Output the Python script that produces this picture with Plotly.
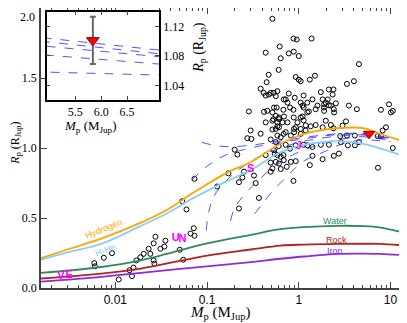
import math
import plotly.graph_objects as go

# pure-composition mass-radius curves (M_Jup -> R_Jup)
gas_mass = [0.00155, 0.003, 0.007, 0.019, 0.036, 0.07, 0.16, 0.3, 0.63, 1.14, 2.6, 5.1, 7.8, 15]
hydrogen_r = [0.213, 0.275, 0.352, 0.467, 0.556, 0.678, 0.819, 0.90, 1.03, 1.10, 1.141, 1.141, 1.10, 1.04]
hhe_r = [0.202, 0.255, 0.315, 0.444, 0.53, 0.64, 0.76, 0.843, 0.97, 1.023, 1.047, 1.03, 0.995, 0.937]

solid_mass = [0.00155, 0.007, 0.019, 0.1, 0.3, 0.63, 1.14, 2.6, 5.1, 7.8, 15]
water_r = [0.108, 0.15, 0.197, 0.319, 0.38, 0.42, 0.435, 0.444, 0.442, 0.432, 0.39]
rock_r = [0.068, 0.103, 0.139, 0.232, 0.275, 0.303, 0.31, 0.315, 0.316, 0.315, 0.303]
iron_r = [0.045, 0.08, 0.108, 0.155, 0.185, 0.209, 0.225, 0.244, 0.246, 0.244, 0.232]

# giant planet models with different core masses (dashed)
core_mass = [
    [0.088, 0.13, 0.2, 0.3, 0.5, 1, 2, 3, 4.95, 7.1, 10],
    [0.068, 0.1, 0.16, 0.3, 0.5, 1, 2, 3, 4.95, 7.1, 10],
    [0.098, 0.105, 0.12, 0.17, 0.25, 0.4, 0.7, 1, 2, 3, 4.95, 7.1, 10],
    [0.18, 0.2, 0.25, 0.35, 0.5, 0.8, 1, 2, 3, 4.95, 7.1, 10],
    [0.33, 0.4, 0.5, 0.7, 1.1, 2, 3, 4.95, 7.1, 10],
]
core_r = [
    [1.04, 1.015, 1.01, 1.02, 1.04, 1.07, 1.095, 1.103, 1.104, 1.088, 1.07],
    [0.77, 0.87, 0.95, 1.0, 1.03, 1.06, 1.088, 1.097, 1.099, 1.083, 1.066],
    [0.41, 0.55, 0.66, 0.78, 0.87, 0.95, 1.01, 1.04, 1.075, 1.087, 1.093, 1.079, 1.062],
    [0.48, 0.57, 0.66, 0.76, 0.85, 0.94, 0.97, 1.04, 1.065, 1.081, 1.069, 1.055],
    [0.53, 0.6, 0.68, 0.78, 0.90, 0.98, 1.03, 1.058, 1.054, 1.046],
]

# known transiting planets
obs_mass = [
    0.0059, 0.0060, 0.0075, 0.0092, 0.0109, 0.0143, 0.0152, 0.0158, 0.0170, 0.0188,
    0.0204, 0.0231, 0.0241, 0.0262, 0.0267, 0.0262, 0.0274, 0.0310, 0.0343, 0.0352,
    0.0504, 0.0550, 0.0661, 0.0730, 0.0717, 0.0536, 0.0597, 0.0730, 0.129, 0.171,
    0.200, 0.214, 0.223, 0.223, 0.243, 0.253, 0.275, 0.286, 0.299, 0.304,
    0.325, 0.339, 0.368, 0.384, 0.418, 0.436, 0.436, 0.436, 0.455, 0.473,
    0.470, 0.447, 0.436, 0.516, 0.620, 0.604, 0.384, 0.414, 0.533, 0.585,
    0.561, 0.494, 0.516, 0.561, 0.529, 0.609, 0.516, 0.585, 0.516, 0.561,
    0.585, 0.537, 0.585, 0.561, 0.609, 0.494, 0.516, 0.494, 0.636, 0.681,
    0.804, 0.818, 0.740, 0.721, 0.753, 0.804, 0.609, 0.691, 0.585, 0.609,
    0.753, 0.968, 0.889, 1.05, 0.721, 0.636, 0.818,
    0.875, 0.951, 1.38, 0.778, 0.882, 1.0, 0.636, 4.53, 0.927, 1.0,
    1.05, 1.32, 1.50, 3.35, 3.99, 0.494, 0.686, 0.778, 0.904, 1.13,
    1.05, 1.10, 1.24, 1.41, 1.74, 1.82, 1.97, 2.13, 2.39, 2.34,
    2.07, 2.24, 2.54, 1.53, 0.575, 0.681, 0.875, 3.52, 4.30, 7.87,
    9.63, 10.6, 0.537, 1.13, 1.29, 1.60, 1.88, 2.13, 2.41, 13.6,
    0.664, 0.882, 1.10, 1.13, 1.19, 0.927, 1.35, 1.53, 1.82, 2.24,
    3.00, 3.27, 8.93, 8.22, 7.87, 0.561, 0.686, 0.604, 0.721, 0.927,
    1.13, 1.41, 1.74, 2.13, 2.88, 3.43, 4.53, 0.547, 0.636, 0.927,
    1.41, 2.41, 2.74, 10.6, 0.686, 1.32, 1.82, 7.30, 0.875, 4.09,
    3.35, 2.83, 7.25, 1.97, 2.39, 4.09, 1.24, 1.89, 10.1, 1.24,
    1.05, 1.89, 2.43, 1.19, 1.05, 0.889,
]
obs_radius = [
    0.178, 0.155, 0.216, 0.249, 0.061, 0.127, 0.085, 0.146, 0.197, 0.220,
    0.244, 0.280, 0.244, 0.197, 0.174, 0.319, 0.366, 0.280, 0.296, 0.338,
    0.273, 0.202, 0.389, 0.373, 0.427, 0.620, 0.561, 0.780, 0.725, 0.819,
    0.988, 0.953, 0.756, 0.568, 0.789, 0.831, 1.070, 1.261, 1.125, 1.065,
    0.803, 0.749, 0.643, 1.102, 1.258, 1.183, 0.949, 1.375, 1.266, 1.382,
    1.523, 1.470, 1.681, 1.923, 1.725, 1.558, 1.423, 1.394, 1.394, 1.406,
    1.371, 1.061, 1.254, 1.230, 1.206, 1.206, 1.195, 1.155, 1.132, 1.042,
    1.089, 0.984, 0.949, 0.901, 0.889, 0.831, 0.854, 0.896, 0.850, 0.949,
    0.995, 0.901, 0.866, 1.347, 1.324, 1.289, 1.218, 1.225, 1.183, 1.148,
    1.183, 1.183, 1.136, 1.136, 1.113, 1.077, 1.089,
    1.782, 1.775, 1.782, 1.676, 1.688, 1.657, 1.641, 1.599, 1.507, 1.488,
    1.477, 1.488, 1.516, 1.458, 1.477, 1.394, 1.347, 1.389, 1.359, 1.375,
    1.324, 1.303, 1.324, 1.347, 1.399, 1.347, 1.324, 1.418, 1.418, 1.382,
    1.347, 1.303, 1.319, 1.277, 1.289, 1.273, 1.273, 1.303, 1.277, 1.273,
    1.312, 1.265, 1.289, 1.289, 1.261, 1.303, 1.289, 1.305, 1.277, 1.206,
    1.183, 1.218, 1.225, 1.197, 1.162, 1.148, 1.155, 1.164, 1.148, 1.164,
    1.160, 1.190, 1.148, 1.125, 1.085, 1.136, 1.101, 1.014, 1.023, 1.019,
    1.023, 1.007, 1.023, 1.023, 1.042, 1.019, 1.042, 0.960, 0.937, 0.906,
    0.944, 0.944, 0.960, 1.0, 0.913, 0.878, 0.920, 0.859, 0.765, 1.089,
    1.089, 1.085, 1.085, 1.195, 1.141, 1.019, 1.019, 1.312, 1.254, 1.254,
    1.218, 1.265, 1.254, 1.125, 1.101, 1.113,
]

# solar system planets
ss_letters = ["V", "E", "U", "N", "S", "J"]
ss_mass = [0.00256, 0.00315, 0.0457, 0.054, 0.299, 1.0]
ss_radius = [0.085, 0.089, 0.357, 0.346, 0.85, 1.01]

# the planet of this study
target_mass = [5.84]
target_radius = [1.101]
target_err = [0.032]

fig = go.Figure()

fig.add_trace(go.Scatter(
    x=obs_mass, y=obs_radius, mode="markers",
    marker=dict(symbol="circle-open", size=5, color="black", line=dict(width=1)),
))

for m, r in zip(core_mass, core_r):
    fig.add_trace(go.Scatter(x=m, y=r, mode="lines",
                             line=dict(color="rgba(40,40,255,0.8)", width=1, dash="dash", shape="spline")))

curves = [
    (gas_mass, hydrogen_r, "#ffa500"),
    (gas_mass, hhe_r, "#87cefa"),
    (solid_mass, water_r, "#2e8b57"),
    (solid_mass, rock_r, "#b22222"),
    (solid_mass, iron_r, "#8a2be2"),
]
for m, r, c in curves:
    fig.add_trace(go.Scatter(x=m, y=r, mode="lines", line=dict(color=c, width=1.8, shape="spline")))

fig.add_trace(go.Scatter(
    x=ss_mass, y=ss_radius, mode="text", text=["<b>%s</b>" % s for s in ss_letters],
    textfont=dict(color="#ff00ff", size=11, family="Liberation Sans"),
))

fig.add_trace(go.Scatter(
    x=target_mass, y=target_radius, mode="markers",
    marker=dict(symbol="triangle-down", size=10, color="red", line=dict(color="darkred", width=1)),
))

# inset: zoom around the planet
for m, r in zip(core_mass, core_r):
    fig.add_trace(go.Scatter(x=m, y=r, mode="lines", xaxis="x2", yaxis="y2",
                             line=dict(color="rgba(40,40,255,0.8)", width=1, dash="dash")))
fig.add_trace(go.Scatter(
    x=target_mass, y=target_radius, mode="markers", xaxis="x2", yaxis="y2",
    error_y=dict(type="data", array=target_err, color="#666", thickness=2, width=3),
    marker=dict(symbol="triangle-down", size=11, color="red", line=dict(color="darkred", width=1)),
))

# curve labels
labels = [
    ("Hydrogen", 0.0074, 0.425, "#ffa500", -22),
    ("H-He", 0.0078, 0.27, "#87cefa", -20),
    ("Water", 2.5, 0.48, "#2e8b57", 0),
    ("Rock", 2.6, 0.345, "#b22222", 0),
    ("Iron", 2.5, 0.265, "#8a2be2", 0),
]
for txt, m, r, c, ang in labels:
    fig.add_annotation(x=math.log10(m), y=r, text=txt, showarrow=False, textangle=ang,
                       font=dict(family="Liberation Sans", size=9, color=c))

serif = "Liberation Serif"
black = "black"
titles = [
    # text, x, y, angle, size (paper coords)
    ("<i>M</i><sub>p</sub> (M<sub>Jup</sub>)", 0.489, -0.089, 0, 15),
    ("<i>R</i><sub>p</sub> (R<sub>Jup</sub>)", -0.069, 0.518, -90, 12),
    ("<i>M</i><sub>p</sub> (M<sub>Jup</sub>)", 0.134, 0.578, 0, 13),
    ("<i>R</i><sub>p</sub> (R<sub>Jup</sub>)", 0.434, 0.861, -90, 14),
]
for txt, x, y, ang, sz in titles:
    fig.add_annotation(xref="paper", yref="paper", x=x, y=y, xanchor="center", yanchor="middle",
                       text=txt, showarrow=False, textangle=ang,
                       font=dict(family=serif, size=sz, color=black))

# top y label sits on the page edge, draw it by hand just below the frame
fig.add_annotation(xref="paper", yref="paper", x=-0.011, y=1.0, xanchor="right", yanchor="top",
                   text="2.0", showarrow=False, font=dict(family=serif, size=12, color=black))

frame = dict(showline=True, linecolor="#444", linewidth=1.5, mirror="allticks",
             ticks="inside", tickcolor="#444", showgrid=False, zeroline=False, automargin=False)

# the page body adds an 8 px margin, so the figure is 16 px smaller
fig.update_layout(
    width=399, height=315,
    margin=dict(l=33, r=0, t=0, b=35),
    plot_bgcolor="white", paper_bgcolor="white",
    showlegend=False,
    xaxis=dict(type="log", range=[-2.81, 1.18], dtick=1, ticklen=6,
               minor=dict(ticks="inside", ticklen=3, tickcolor="#444"),
               tickfont=dict(family="Liberation Sans", size=12, color=black),
               **frame),
    yaxis=dict(range=[0, 2.0], tickvals=[0, 0.5, 1.0, 1.5],
               ticktext=["0.0", "0.5", "1.0", "1.5"], ticklen=6,
               tickfont=dict(family=serif, size=12, color=black),
               **frame),
    xaxis2=dict(domain=[0.0156, 0.323], anchor="y2", range=[4.95, 7.12],
                tickvals=[5.5, 6.0, 6.5], ticktext=["5.5", "6.0", "6.5"], ticklen=4,
                tickfont=dict(family=serif, size=12, color=black),
                showline=True, linecolor=black, linewidth=1.5, mirror="allticks",
                ticks="inside", showgrid=False, zeroline=False),
    yaxis2=dict(domain=[0.671, 0.987], anchor="x2", side="right", range=[1.02, 1.14],
                tickvals=[1.04, 1.08, 1.12], ticktext=["1.04", "1.08", "1.12"], ticklen=4,
                tickfont=dict(family=serif, size=12, color=black),
                showline=True, linecolor=black, linewidth=1.5, mirror="allticks",
                ticks="inside", showgrid=False, zeroline=False),
)

fig.write_html("out.html")
